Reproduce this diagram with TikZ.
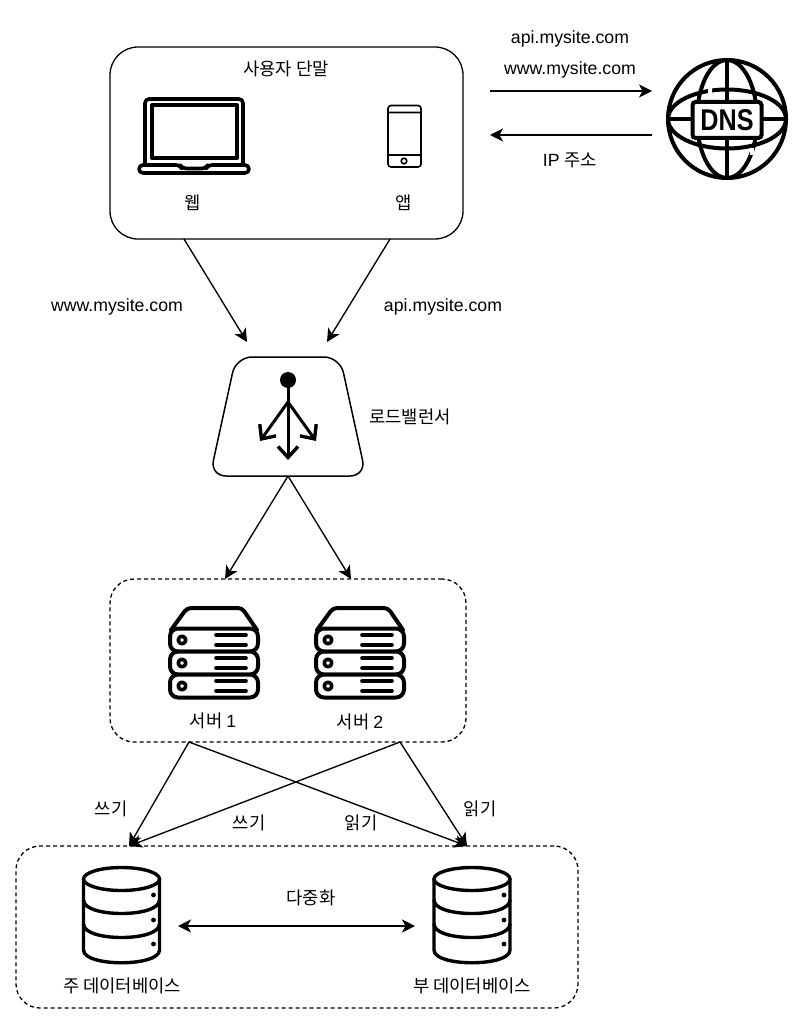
\documentclass[tikz,border=0pt]{standalone}
\usepackage{fontspec}
\setmainfont{Liberation Sans}
\newfontfamily\kr{Noto Sans CJK KR}
\usetikzlibrary{arrows.meta}
\tikzset{
  box/.style={draw,line width=1.3pt,rounded corners=28pt,inner sep=0pt},
  dashbox/.style={box,dashed,dash pattern=on 4pt off 3pt,rounded corners=24pt},
  lab/.style={inner sep=0pt,yshift=-1.5pt,font=\fontsize{17.7}{20}\selectfont\kr},
  latin/.style={lab,font=\fontsize{17.7}{20}\selectfont},
  link/.style={line width=1.35pt,-{Stealth[length=13pt,width=13pt,inset=3.5pt]}},
  barb/.style={line width=3pt,-{Straight Barb[length=11pt,width=20pt,line width=3.4pt]}},
  icon/.style={line width=3.4pt,line join=round,line cap=round},
  pics/serverstack/.style={code={
    \draw[icon,line width=4pt,rounded corners=4pt] (-43,-20) -- (-27,-42) -- (28,-42) -- (43,-20);
    \foreach \rowy in {-10,13,36}{
      \draw[icon,line width=4pt,rounded corners=8pt,fill=white] (-44,\rowy-11.5) rectangle (44,\rowy+11.5);
      \draw[icon,line width=3.6pt] (-32,\rowy) circle (3.8);
      \draw[icon,line width=3.6pt] (2,\rowy-5) -- (32,\rowy-5) (2,\rowy+5) -- (32,\rowy+5);
    }
  }},
  pics/dbstack/.style={code={
    \draw[icon] (0,-42) ellipse (38 and 11.5);
    \draw[icon] (-38,-42) -- (-38,29) .. controls (-38,46) and (38,46) .. (38,29) -- (38,-42);
    \foreach \bandy in {-16,8}
      \draw[icon] (-38,\bandy-5) .. controls (-38,\bandy+13) and (38,\bandy+13) .. (38,\bandy-5);
    \foreach \doty in {-26,-1,23}
      \fill (32,\doty) circle (2.4);
  }},
}
\begin{document}
\begin{tikzpicture}[x=1pt,y=-1pt]
  \useasboundingbox (0,0) rectangle (804,1024);
  % client
  \node[box,minimum width=353pt,minimum height=192pt] (client) at (286.5,143) {};
  \node[lab] (clienttitle) at (286,67) {사용자 단말};
  \draw[icon,line width=3.6pt,rounded corners=4pt] (145,163) -- (145,99) -- (243,99) -- (243,163);
  \draw[icon,line width=4pt,line cap=butt] (152,105.5) rectangle (237,158);
  \draw[icon,line width=3.6pt,rounded corners=4pt,fill=white] (139,165) -- (180,165) -- (182,168.5) -- (206,168.5) -- (208,165) -- (249,165) -- (249,173) -- (139,173) -- cycle;
  \draw[line width=1.6pt,rounded corners=3pt] (388,105.5) rectangle (421,167);
  \draw[line width=1.6pt] (388,112.5) -- (421,112.5) (388,155) -- (421,155) (404,161) circle (2.8);
  \node[lab] (web) at (193,201) {웹};
  \node[lab] (app) at (404,201) {앱};
  % dns
  \coordinate (dnsin) at (652,91);
  \coordinate (dnsout) at (652,135);
  \coordinate (clientin) at (490,135);
  \coordinate (clientout) at (490,91);
  \draw[link] (clientout) -- (dnsin);
  \draw[link] (dnsout) -- (clientin);
  \node[latin] (apitop) at (570,37) {api.mysite.com};
  \node[latin] (wwwtop) at (570,68) {www.mysite.com};
  \node[latin] (ipaddr) at (570,159) {IP {\kr 주소}};
  \draw[icon,line width=4pt] (727,119) circle (59);
  \draw[icon,line width=4pt] (727,119) ellipse (59 and 29.5);
  \draw[icon,line width=4pt] (727,119) ellipse (30 and 59);
  \draw[icon,line width=4pt] (727,60) -- (727,178) (668,119) -- (786,119);
  \fill[white] (708,86) rectangle (712,93) (750,148) rectangle (754,155);
  \node[draw,line width=4pt,rounded corners=3pt,fill=white,minimum width=69pt,minimum height=36pt,inner sep=0pt] (dns) at (727,120) {};
  \node[inner sep=0pt,xscale=.84,font=\fontsize{30}{30}\selectfont\bfseries] (dnstext) at (dns) {DNS};
  % load balancer
  \draw[line width=1.5pt,rounded corners=16pt] (236,357) -- (340,357) -- (366,476) -- (210,476) -- cycle;
  \node[inner sep=0pt,minimum size=0pt] (lbtop) at (288,380) {};
  \fill (lbtop) circle (8);
  \coordinate (lbfork) at (288,402);
  \coordinate (lbleft) at (260,441);
  \coordinate (lbright) at (316,441);
  \coordinate (lbdown) at (288,460);
  \draw[line width=3pt] (lbtop) -- (lbfork);
  \draw[barb] (lbfork) -- (lbdown);
  \draw[barb] (lbfork) -- (lbleft);
  \draw[barb] (lbfork) -- (lbright);
  \node[lab] (lblabel) at (410,415) {로드밸런서};
  \coordinate (lbinl) at (247,342);
  \coordinate (lbinr) at (327,342);
  \coordinate (webout) at (184,239);
  \coordinate (appout) at (390,239);
  \coordinate (lbout) at (288,476);
  \draw[link] (webout) -- (lbinl);
  \draw[link] (appout) -- (lbinr);
  \node[latin] (wwwleft) at (117,305) {www.mysite.com};
  \node[latin] (apiright) at (443,305) {api.mysite.com};
  % servers
  \node[dashbox,minimum width=356pt,minimum height=163pt] (servers) at (288,660.5) {};
  \pic at (214,650) {serverstack};
  \pic at (360,650) {serverstack};
  \node[lab] (server1) at (213,719) {서버 {\rmfamily 1}};
  \node[lab] (server2) at (360,720) {서버 {\rmfamily 2}};
  \coordinate (srvinl) at (225,579);
  \coordinate (srvinr) at (351,579);
  \draw[link] (lbout) -- (srvinl);
  \draw[link] (lbout) -- (srvinr);
  % databases
  \node[dashbox,minimum width=562pt,minimum height=162pt] (dbs) at (297,927) {};
  \pic at (121.5,921) {dbstack};
  \pic at (472,921) {dbstack};
  \node[lab] (mainlabel) at (122,984) {주 데이터베이스};
  \node[lab] (sublabel) at (472,984) {부 데이터베이스};
  \coordinate (mainrep) at (178,926);
  \coordinate (subrep) at (415,926);
  \draw[link,{Stealth[length=13pt,width=13pt,inset=3.5pt]}-{Stealth[length=13pt,width=13pt,inset=3.5pt]}] (mainrep) -- (subrep);
  \node[lab] (replabel) at (311,896) {다중화};
  \coordinate (srvl) at (189,742);
  \coordinate (srvr) at (400,742);
  \coordinate (mainin) at (129,846);
  \coordinate (subin) at (467,846);
  \draw[link] (srvl) -- (mainin);
  \draw[link] (srvl) -- (subin);
  \draw[link] (srvr) -- (mainin);
  \draw[link] (srvr) -- (subin);
  \node[lab] (write1) at (111,807) {쓰기};
  \node[lab] (write2) at (249,821) {쓰기};
  \node[lab] (read1) at (361,821) {읽기};
  \node[lab] (read2) at (480,807) {읽기};
\end{tikzpicture}
\end{document}
